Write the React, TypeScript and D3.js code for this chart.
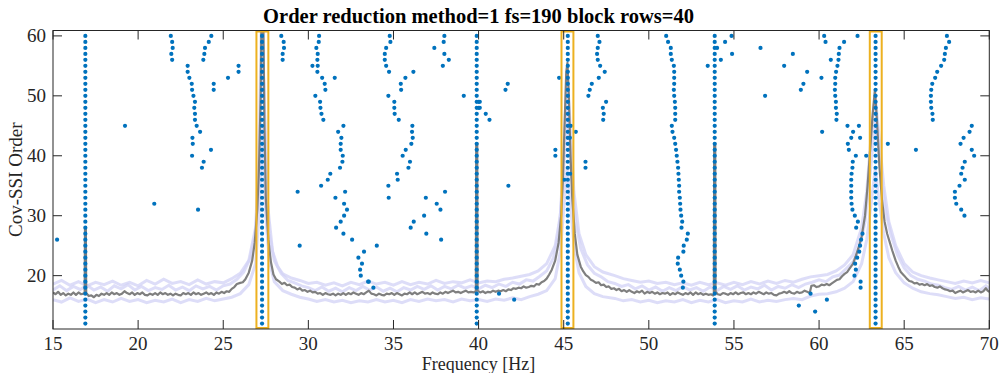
import React, { useEffect, useRef } from 'react';
import * as d3 from 'd3';

// chart text
const chartTitle = 'Order reduction method=1 fs=190 block rows=40';
const xLabel = 'Frequency [Hz]';
const yLabel = 'Cov-SSI Order';
const xTicks = [15, 20, 25, 30, 35, 40, 45, 50, 55, 60, 65, 70];
const yTicks = [20, 30, 40, 50, 60];

// poles that are found at every model order (12..60)
const stableFreqs = [16.9, 27.28, 39.89, 45.24, 53.87, 63.32];
const stableOrderLo = 12;
const stableOrderHi = 60;

// selected modes (orange boxes), centre frequency
const selectedModes = [27.3, 45.22, 63.33];

// remaining poles: [frequency, order]
const scatterPoles = [
  [15.24, 26], [19.23, 45], [20.95, 32], [23.52, 31],
  [21.92, 60], [22.0, 59], [22.03, 58], [21.95, 57], [22.0, 56],
  [22.91, 55], [22.91, 54], [23.01, 53], [23.15, 52], [23.17, 51], [23.25, 50], [23.34, 49], [23.3, 48],
  [23.34, 47], [23.34, 46], [23.44, 45], [23.64, 44], [23.19, 43], [23.21, 42], [23.17, 40], [23.85, 39],
  [23.75, 38], [24.28, 41],
  [24.3, 60], [24.15, 59], [23.93, 58], [23.89, 57], [23.83, 56], [24.44, 52], [24.44, 51],
  [25.28, 53], [25.9, 55], [25.9, 54],
  [28.41, 60], [28.55, 59], [28.57, 58], [28.49, 57], [28.49, 56],
  [29.37, 34], [29.49, 25],
  [30.63, 60], [30.61, 59], [30.47, 58], [30.55, 57], [30.53, 56], [30.24, 55], [30.55, 55], [30.53, 54],
  [30.81, 53], [30.96, 52], [31.0, 51], [30.41, 50], [30.69, 49], [30.71, 48], [30.77, 47], [30.88, 46],
  [31.55, 53],
  [32.06, 45], [31.75, 44], [31.94, 43], [31.9, 42], [31.9, 41], [32.02, 40], [32.0, 39], [31.86, 38],
  [31.29, 37], [31.14, 36], [30.75, 35], [32.16, 34], [31.59, 33], [32.1, 32], [32.27, 31], [32.1, 30],
  [31.9, 29], [31.63, 28], [32.06, 27], [32.57, 26], [33.27, 24], [32.94, 23], [33.15, 22], [33.04, 21],
  [33.08, 20], [33.51, 19],
  [34.02, 25], [33.55, 19], [33.82, 18],
  [34.78, 60], [34.82, 59], [34.57, 58], [34.49, 57], [34.49, 56], [34.57, 55], [34.74, 54], [35.43, 52],
  [35.45, 51], [35.7, 53], [36.17, 54],
  [34.7, 50], [35.05, 49], [35.05, 48], [35.07, 47], [35.31, 46],
  [36.11, 45], [36.09, 44], [36.13, 43], [36.05, 42], [35.72, 41], [35.54, 40], [35.97, 39], [35.88, 38],
  [35.21, 37], [35.25, 36], [34.7, 35], [34.72, 33],
  [38.03, 34], [36.9, 33], [37.54, 32], [37.76, 31], [36.8, 30], [36.19, 29], [36.01, 28], [36.93, 27],
  [37.8, 26],
  [37.99, 60], [37.95, 59], [37.4, 58], [37.99, 57], [38.25, 56], [37.9, 55],
  [39.13, 50],
  [40.0, 49], [40.07, 49], [40.0, 48], [40.07, 48],
  [40.42, 47], [40.64, 46], [41.71, 52], [41.58, 51], [41.75, 35], [41.2, 17], [42.09, 16],
  [44.73, 53], [45.42, 45], [45.71, 44], [45.36, 43], [44.51, 41], [44.51, 40], [45.04, 36], [45.38, 37],
  [47.0, 60], [47.1, 59], [47.0, 58], [46.96, 57], [47.0, 56], [47.14, 55], [47.41, 54], [47.06, 53],
  [46.65, 52], [46.53, 51], [46.45, 50], [47.49, 49], [47.3, 48], [47.35, 47], [47.32, 46],
  [46.28, 39], [46.28, 38],
  [51.02, 60], [51.13, 59], [51.29, 58], [51.29, 57], [51.35, 56], [51.47, 55], [51.49, 54], [51.49, 53],
  [51.49, 52], [51.47, 51], [51.49, 50], [51.53, 49], [51.55, 48], [51.55, 47], [51.55, 46], [51.35, 45],
  [51.39, 44], [51.49, 43], [51.55, 42], [51.6, 41], [51.64, 40], [51.68, 39], [51.72, 38], [51.74, 37],
  [51.76, 36], [51.78, 35], [51.78, 34], [51.82, 33], [51.84, 32], [51.86, 31], [51.9, 30], [51.96, 29],
  [51.92, 28], [52.29, 27], [52.23, 26], [52.05, 25], [52.03, 24], [51.72, 23], [51.7, 22], [51.82, 21],
  [51.9, 20], [52.03, 19], [52.0, 18],
  [54.01, 58], [53.46, 55], [54.23, 56], [54.48, 59], [54.86, 60], [54.89, 57],
  [56.56, 58], [56.83, 50], [57.95, 55], [58.46, 57], [59.3, 54], [59.08, 52], [58.93, 51],
  [60.3, 60], [60.38, 59], [60.69, 56], [60.14, 53], [60.18, 44],
  [59.5, 17], [58.81, 15], [59.77, 14], [60.46, 16],
  [62.26, 60], [61.47, 59], [61.2, 58], [61.16, 57], [61.14, 56], [61.08, 55], [61.0, 54], [60.95, 53],
  [60.95, 52], [60.93, 51], [60.95, 50], [60.99, 49], [60.99, 48], [61.04, 47], [61.02, 46],
  [61.67, 45], [62.34, 45], [62.0, 44], [61.89, 43], [62.41, 43], [61.69, 42], [61.75, 41], [62.16, 40],
  [62.77, 40], [61.98, 39], [61.96, 38], [61.91, 37], [61.89, 36], [61.89, 35], [61.89, 34], [61.89, 33],
  [61.91, 32], [61.96, 31], [62.1, 30], [62.28, 29], [62.18, 28], [62.55, 27], [62.47, 26], [62.41, 25],
  [62.36, 24], [62.24, 23], [62.12, 22], [62.16, 21], [62.08, 20], [62.44, 19], [62.44, 18],
  [64.04, 42], [65.69, 41],
  [67.51, 60], [67.64, 59], [67.45, 58], [67.39, 57], [67.35, 56], [67.17, 55], [66.94, 54], [66.82, 53],
  [66.65, 52], [66.59, 51], [66.57, 50], [66.57, 49], [66.59, 48], [66.66, 47], [66.68, 46],
  [68.97, 45], [68.84, 44], [68.49, 43], [68.31, 42], [68.97, 41], [69.11, 40], [68.56, 39], [68.43, 38],
  [68.35, 37], [68.56, 36], [68.25, 35], [67.98, 34], [67.98, 33], [68.06, 32], [68.35, 31], [68.54, 30],
];

// averaged spectrum, scaled to order units: [frequency, value]
const spectrum = [
  [15, 17.2], [15.15, 16.9], [15.3, 17.3], [15.45, 16.8], [15.6, 17.1], [15.75, 16.7], [15.9, 17.0],
  [16.05, 16.8], [16.2, 17.2], [16.35, 16.8], [16.5, 17.2], [16.65, 16.9], [16.8, 17.0], [16.86, 17.1],
  [16.88, 28.0], [16.93, 28.0], [16.95, 17.1], [17.1, 16.6], [17.25, 16.7], [17.4, 16.4], [17.55, 16.8],
  [17.7, 16.6], [17.85, 17.0], [18, 16.8], [18.15, 17.1], [18.3, 16.8], [18.45, 17.2], [18.6, 16.9],
  [18.75, 17.1], [18.9, 16.8], [19.05, 17.0], [19.2, 17.4], [19.35, 17.1], [19.5, 16.9], [19.65, 17.2],
  [19.8, 16.8], [19.95, 17.1], [20.1, 16.9], [20.25, 17.2], [20.4, 16.8], [20.55, 16.7], [20.7, 17.0],
  [20.85, 16.8], [21, 17.1], [21.15, 16.8], [21.3, 17.2], [21.45, 16.9], [21.6, 17.1], [21.75, 16.8],
  [21.9, 17.0], [22.05, 16.7], [22.2, 17.0], [22.35, 16.8], [22.5, 16.7], [22.65, 17.1], [22.8, 16.9],
  [22.95, 17.1], [23.1, 16.8], [23.25, 17.2], [23.4, 16.9], [23.55, 17.1], [23.7, 16.8], [23.85, 17.0],
  [24, 17.2], [24.15, 16.9], [24.3, 17.1], [24.45, 16.8], [24.6, 17.2], [24.75, 17.0], [24.9, 17.3],
  [25.05, 17.1], [25.2, 17.4], [25.35, 17.3], [25.5, 17.8], [25.65, 18.1], [25.8, 18.6], [26, 18.8],
  [26.15, 18.9], [26.3, 19.4], [26.5, 20.5], [26.7, 22.5], [26.85, 25.5], [27.0, 31], [27.1, 38],
  [27.2, 50], [27.25, 64], [27.35, 64], [27.42, 45], [27.5, 33], [27.65, 26], [27.8, 22.3], [27.95, 20.2],
  [28.1, 19.4], [28.3, 19.0], [28.45, 18.6], [28.6, 18.8], [28.75, 18.4], [28.9, 18.5], [29.05, 18.1],
  [29.2, 18.0], [29.35, 17.7], [29.5, 17.9], [29.65, 17.5], [29.8, 17.6], [29.95, 17.3], [30.1, 17.5],
  [30.25, 17.2], [30.4, 17.3], [30.55, 17.0], [30.7, 17.1], [30.85, 16.8], [31, 17.1], [31.15, 16.9],
  [31.3, 16.8], [31.45, 17.0], [31.6, 16.7], [31.75, 17.0], [31.9, 16.8], [32.05, 17.1], [32.2, 16.8],
  [32.35, 17.1], [32.5, 16.9], [32.65, 17.2], [32.8, 17.0], [32.95, 16.8], [33.1, 17.1], [33.25, 16.9],
  [33.4, 17.2], [33.55, 17.5], [33.7, 17.0], [33.85, 16.9], [34, 16.7], [34.15, 17.0], [34.3, 16.8],
  [34.45, 16.7], [34.6, 17.0], [34.75, 16.9], [34.9, 17.1], [35.05, 16.8], [35.2, 17.1], [35.35, 16.9],
  [35.5, 16.7], [35.65, 17.0], [35.8, 16.9], [35.95, 17.2], [36.1, 16.9], [36.25, 17.2], [36.4, 16.9],
  [36.55, 17.1], [36.7, 17.3], [36.85, 17.0], [37, 17.1], [37.15, 16.9], [37.3, 17.2], [37.45, 17.0],
  [37.6, 16.9], [37.75, 17.2], [37.9, 17.0], [38.05, 17.3], [38.2, 17.1], [38.35, 17.3], [38.5, 17.5],
  [38.65, 17.2], [38.8, 17.3], [38.95, 17.1], [39.1, 17.3], [39.25, 17.5], [39.4, 17.2], [39.55, 17.3],
  [39.7, 17.2], [39.84, 17.4], [39.86, 42.0], [39.92, 42.0], [39.94, 17.5], [40.1, 17.2], [40.25, 17.4],
  [40.4, 17.1], [40.55, 17.3], [40.7, 17.2], [40.85, 17.5], [41, 17.3], [41.15, 17.5], [41.3, 17.4],
  [41.45, 17.6], [41.6, 17.4], [41.75, 17.7], [41.9, 17.6], [42.05, 17.9], [42.2, 17.8], [42.35, 18.0],
  [42.5, 17.9], [42.65, 18.2], [42.8, 18.0], [42.95, 18.1], [43.1, 18.3], [43.25, 18.2], [43.4, 18.6],
  [43.55, 18.5], [43.7, 18.9], [43.85, 19.1], [44, 19.5], [44.15, 20.2], [44.3, 21.0], [44.5, 22.5],
  [44.7, 25.5], [44.85, 30], [44.95, 36], [45.05, 45], [45.15, 54], [45.22, 55.5], [45.3, 50], [45.4, 40],
  [45.5, 33], [45.65, 27], [45.8, 23.5], [46, 21.5], [46.15, 20.7], [46.3, 20.1], [46.45, 19.8],
  [46.6, 19.3], [46.75, 19.1], [46.9, 18.8], [47.05, 18.9], [47.2, 18.4], [47.35, 18.5], [47.5, 18.1],
  [47.65, 18.2], [47.8, 17.8], [47.95, 17.9], [48.1, 17.6], [48.25, 17.8], [48.4, 17.4], [48.55, 17.6],
  [48.7, 17.3], [48.85, 17.6], [49, 17.3], [49.15, 17.1], [49.3, 17.4], [49.45, 17.2], [49.6, 17.5],
  [49.75, 17.0], [49.9, 17.3], [50.05, 17.1], [50.2, 17.3], [50.35, 17.0], [50.5, 17.2], [50.65, 16.9],
  [50.8, 17.1], [50.95, 17.0], [51.1, 17.2], [51.25, 16.8], [51.4, 17.1], [51.55, 16.9], [51.7, 17.2],
  [51.85, 17.0], [52, 16.8], [52.15, 17.1], [52.3, 16.9], [52.45, 17.2], [52.6, 16.8], [52.75, 17.2],
  [52.9, 16.9], [53.05, 17.1], [53.2, 16.8], [53.35, 17.0], [53.5, 16.8], [53.65, 16.9], [53.78, 16.7],
  [53.82, 17.0], [53.84, 42.0], [53.9, 42.0], [53.92, 17.3], [54.05, 16.9], [54.2, 16.8], [54.35, 17.1],
  [54.5, 17.0], [54.65, 16.8], [54.8, 17.1], [54.95, 16.9], [55.1, 17.2], [55.25, 16.9], [55.4, 17.1],
  [55.55, 17.2], [55.7, 16.9], [55.85, 17.1], [56, 16.9], [56.15, 17.2], [56.3, 17.0], [56.45, 17.3],
  [56.6, 17.1], [56.75, 16.9], [56.9, 17.2], [57.05, 17.0], [57.2, 17.1], [57.35, 16.8], [57.5, 16.7],
  [57.65, 17.0], [57.8, 17.1], [57.95, 17.3], [58.1, 17.1], [58.25, 17.4], [58.4, 17.1], [58.55, 17.0],
  [58.7, 17.3], [58.85, 17.1], [59, 17.2], [59.15, 17.5], [59.3, 17.3], [59.45, 17.1], [59.55, 18.3],
  [59.7, 18.4], [59.85, 18.1], [60, 18.2], [60.15, 18.5], [60.3, 18.4], [60.45, 18.6], [60.6, 18.4],
  [60.75, 18.7], [60.9, 19.0], [61.05, 19.3], [61.2, 19.4], [61.35, 19.9], [61.5, 20.3], [61.65, 20.6],
  [61.8, 21.2], [62, 22.0], [62.15, 23.2], [62.3, 24.5], [62.5, 26.5], [62.7, 30], [62.85, 35], [63, 41],
  [63.15, 47], [63.28, 51], [63.4, 46], [63.55, 38], [63.7, 32.5], [63.85, 29], [64, 27], [64.15, 25.6],
  [64.3, 24.2], [64.5, 22.5], [64.65, 21.5], [64.8, 20.6], [65, 20.0], [65.15, 19.5], [65.3, 19.1],
  [65.45, 19.0], [65.6, 18.7], [65.75, 18.8], [65.9, 18.5], [66.05, 18.6], [66.2, 18.4], [66.35, 18.6],
  [66.5, 18.3], [66.65, 18.4], [66.8, 18.1], [66.95, 18.0], [67.1, 18.2], [67.25, 17.9], [67.4, 17.7],
  [67.55, 17.6], [67.7, 17.4], [67.85, 17.5], [68, 17.1], [68.15, 17.3], [68.3, 17.5], [68.45, 17.2],
  [68.6, 17.4], [68.75, 17.6], [68.9, 17.3], [69.05, 17.4], [69.2, 17.2], [69.35, 17.5], [69.5, 17.2],
  [69.65, 17.4], [69.8, 17.9], [69.9, 17.5], [70, 17.3],
];

// single-channel spectra drawn as a light band behind the mean
const spectrumHi = [
  [15, 18.6], [15.5, 19.2], [16, 18.4], [16.5, 19.0], [17, 18.3], [17.5, 18.9], [18, 18.5], [18.5, 19.1],
  [19, 18.4], [19.5, 18.9], [20, 18.3], [20.5, 19.2], [21, 18.6], [21.5, 19.4], [22, 18.7], [22.5, 19.0],
  [23, 18.5], [23.5, 19.3], [24, 18.6], [24.5, 19.0], [25, 18.8], [25.5, 19.5], [26, 20.4], [26.5, 22.5],
  [26.9, 28], [27.1, 40], [27.25, 64], [27.4, 50], [27.6, 32], [27.9, 24], [28.2, 21.5], [28.5, 20.3],
  [29, 19.6], [29.5, 19.2], [30, 18.7], [30.5, 18.9], [31, 18.4], [31.5, 18.8], [32, 18.3], [32.5, 18.9],
  [33, 18.5], [33.5, 19.1], [34, 18.6], [34.5, 18.9], [35, 18.4], [35.5, 19.0], [36, 18.5], [36.5, 18.9],
  [37, 18.6], [37.5, 19.2], [38, 18.7], [38.5, 19.0], [39, 18.8], [39.5, 19.3], [40, 18.8], [40.5, 19.1],
  [41, 19.0], [41.5, 19.4], [42, 19.6], [42.5, 19.9], [43, 20.2], [43.5, 20.8], [44, 22.0], [44.5, 25.0],
  [44.8, 30], [45.0, 40], [45.2, 54], [45.4, 44], [45.6, 34], [45.9, 27], [46.3, 23.5], [46.8, 21.5],
  [47.3, 20.6], [48, 20.0], [48.5, 19.5], [49, 19.2], [49.5, 18.9], [50, 19.1], [50.5, 18.7], [51, 18.9],
  [51.5, 18.5], [52, 18.8], [52.5, 18.4], [53, 18.9], [53.5, 18.5], [54, 18.8], [54.5, 18.4], [55, 18.9],
  [55.5, 18.5], [56, 19.0], [56.5, 18.6], [57, 19.1], [57.5, 18.7], [58, 19.2], [58.5, 18.9], [59, 19.4],
  [59.5, 19.8], [60, 20.0], [60.5, 20.2], [61, 20.8], [61.5, 21.8], [62, 23.5], [62.5, 28], [62.8, 34],
  [63.1, 45], [63.3, 50], [63.5, 44], [63.8, 35], [64.1, 29], [64.5, 25], [65, 22], [65.5, 20.6],
  [66, 20.0], [66.5, 19.6], [67, 19.3], [67.5, 19.0], [68, 18.7], [68.5, 19.1], [69, 18.8], [69.5, 19.2],
  [70, 18.8],
];
const spectrumMid = [
  [15, 17.6], [15.4, 18.3], [15.8, 17.5], [16.2, 18.2], [16.6, 17.7], [17, 18.4], [17.4, 17.6], [17.8, 18.1],
  [18.2, 17.4], [18.6, 18.3], [19, 17.8], [19.4, 18.5], [19.8, 17.6], [20.2, 18.2], [20.6, 17.5], [21, 18.0],
  [21.4, 17.7], [21.8, 18.4], [22.2, 17.6], [22.6, 18.1], [23, 17.5], [23.4, 18.3], [23.8, 17.8], [24.2, 18.2],
  [24.6, 17.6], [25, 18.3], [25.4, 18.6], [25.8, 19.4], [26.2, 20.6], [26.6, 23], [26.9, 27], [27.1, 36],
  [27.3, 62], [27.5, 38], [27.7, 27], [28, 22.5], [28.4, 20.4], [28.8, 19.2], [29.2, 18.8], [29.6, 18.3],
  [30, 18.0], [30.4, 17.5], [30.8, 18.1], [31.2, 17.4], [31.6, 17.9], [32, 17.3], [32.4, 18.0], [32.8, 17.5],
  [33.2, 18.2], [33.6, 17.6], [34, 18.1], [34.4, 17.4], [34.8, 17.9], [35.2, 17.3], [35.6, 18.0], [36, 17.6],
  [36.4, 18.2], [36.8, 17.7], [37.2, 18.3], [37.6, 17.6], [38, 18.2], [38.4, 17.8], [38.8, 18.4], [39.2, 17.9],
  [39.6, 18.3], [40, 17.8], [40.4, 18.4], [40.8, 18.0], [41.2, 18.6], [41.6, 18.2], [42, 18.9], [42.4, 18.6],
  [42.8, 19.3], [43.2, 19.1], [43.6, 19.9], [44, 20.8], [44.4, 23], [44.7, 27], [44.95, 35], [45.2, 48],
  [45.45, 37], [45.7, 29], [46, 24.5], [46.4, 21.8], [46.8, 20.4], [47.2, 19.8], [47.6, 19.0], [48, 18.7],
  [48.4, 18.2], [48.8, 18.5], [49.2, 17.8], [49.6, 18.3], [50, 17.6], [50.4, 18.1], [50.8, 17.4], [51.2, 18.0],
  [51.6, 17.5], [52, 18.2], [52.4, 17.6], [52.8, 18.0], [53.2, 17.4], [53.6, 18.1], [54, 17.5], [54.4, 18.2],
  [54.8, 17.7], [55.2, 18.3], [55.6, 17.6], [56, 18.1], [56.4, 17.8], [56.8, 18.4], [57.2, 17.6], [57.6, 18.2],
  [58, 17.9], [58.4, 18.5], [58.8, 18.0], [59.2, 18.6], [59.6, 18.9], [60, 19.3], [60.4, 19.0], [60.8, 19.8],
  [61.2, 20.1], [61.6, 21.2], [62, 22.3], [62.4, 25], [62.7, 29], [63, 37], [63.3, 46], [63.6, 38],
  [63.9, 31], [64.2, 27], [64.6, 23.5], [65, 21.3], [65.4, 20.0], [65.8, 19.4], [66.2, 19.1], [66.6, 18.6],
  [67, 18.4], [67.4, 18.0], [67.8, 17.7], [68.2, 18.2], [68.6, 17.6], [69, 18.1], [69.4, 17.5], [69.8, 18.3],
  [70, 17.8],
];
const spectrumLo = [
  [15, 16.0], [15.5, 15.6], [16, 16.3], [16.5, 15.7], [17, 16.1], [17.5, 15.5], [18, 16.0], [18.5, 15.6],
  [19, 16.2], [19.5, 15.7], [20, 16.0], [20.5, 15.5], [21, 15.9], [21.5, 15.6], [22, 16.1], [22.5, 15.5],
  [23, 16.0], [23.5, 15.7], [24, 16.2], [24.5, 15.8], [25, 16.1], [25.5, 16.4], [26, 17.0], [26.5, 18.5],
  [26.9, 22], [27.1, 30], [27.3, 45], [27.5, 30], [27.7, 22.5], [28, 19.0], [28.5, 17.5], [29, 16.9],
  [29.5, 16.4], [30, 16.1], [30.5, 15.7], [31, 16.0], [31.5, 15.6], [32, 15.9], [32.5, 15.5], [33, 15.8],
  [33.5, 15.6], [34, 16.0], [34.5, 15.6], [35, 15.9], [35.5, 15.5], [36, 16.0], [36.5, 15.7], [37, 16.1],
  [37.5, 15.8], [38, 16.0], [38.5, 15.6], [39, 16.1], [39.5, 15.8], [40, 16.0], [40.5, 15.7], [41, 16.1],
  [41.5, 15.9], [42, 16.3], [42.5, 16.0], [43, 16.5], [43.5, 16.9], [44, 17.5], [44.5, 19.5], [44.8, 24],
  [45.0, 31], [45.2, 38], [45.4, 32], [45.6, 25], [45.9, 20.5], [46.3, 18.2], [46.8, 17.0], [47.3, 16.5],
  [48, 16.2], [48.5, 15.8], [49, 16.0], [49.5, 15.6], [50, 15.9], [50.5, 15.5], [51, 15.8], [51.5, 15.6],
  [52, 16.0], [52.5, 15.5], [53, 15.9], [53.5, 15.6], [54, 16.0], [54.5, 15.5], [55, 15.8], [55.5, 15.6],
  [56, 16.1], [56.5, 15.6], [57, 15.9], [57.5, 15.7], [58, 16.0], [58.5, 16.2], [59, 16.0], [59.5, 16.6],
  [60, 16.9], [60.5, 17.0], [61, 17.3], [61.5, 17.9], [62, 19.0], [62.5, 22], [62.8, 26], [63.1, 33],
  [63.3, 38], [63.5, 33], [63.8, 27], [64.1, 23], [64.5, 20.5], [65, 18.8], [65.5, 17.9], [66, 17.3],
  [66.5, 17.0], [67, 16.8], [67.5, 16.5], [68, 16.2], [68.5, 16.4], [69, 16.0], [69.5, 16.3], [70, 16.1],
];

const W = 1007;
const H = 373;
const margin = { top: 30.5, right: 17.7, bottom: 44, left: 53 };
const serif = '"Liberation Serif", "Times New Roman", serif';

const App = () => {
  const svgRef = useRef(null);

  useEffect(() => {
    const svg = d3.select(svgRef.current);
    svg.selectAll('*').remove();

    const x = d3.scaleLinear().domain([15, 70]).range([margin.left, W - margin.right]);
    const y = d3.scaleLinear().domain([11.1, 60.9]).range([H - margin.bottom, margin.top]);

    svg.append('defs').append('clipPath').attr('id', 'plotClip')
      .append('rect')
      .attr('x', margin.left).attr('y', margin.top)
      .attr('width', x(70) - x(15)).attr('height', y(11.1) - y(60.9));

    const plot = svg.append('g').attr('clip-path', 'url(#plotClip)');
    const line = d3.line().x(d => x(d[0])).y(d => y(d[1]));

    // light spectra band
    [spectrumHi, spectrumMid, spectrumLo].forEach(s => {
      plot.append('path').datum(s)
        .attr('d', line)
        .attr('fill', 'none')
        .attr('stroke', '#d2d2f6')
        .attr('stroke-width', 3)
        .attr('stroke-opacity', 0.75);
    });

    // mean spectrum
    plot.append('path').datum(spectrum)
      .attr('d', line)
      .attr('fill', 'none')
      .attr('stroke', '#7f7f7f')
      .attr('stroke-width', 2.2)
      .attr('stroke-linejoin', 'round');

    // poles
    const stablePoles = [];
    stableFreqs.forEach(f => {
      for (let o = stableOrderLo; o <= stableOrderHi; o++) stablePoles.push([f, o]);
    });
    plot.selectAll('.pole')
      .data(stablePoles.concat(scatterPoles))
      .enter().append('circle')
      .attr('class', 'pole')
      .attr('cx', d => x(d[0]))
      .attr('cy', d => y(d[1]))
      .attr('r', 2.1)
      .style('fill', '#0072BD');

    // selected modes
    svg.selectAll('.mode')
      .data(selectedModes)
      .enter().append('rect')
      .attr('class', 'mode')
      .attr('x', d => x(d - 0.35))
      .attr('y', y(60.9) + 1)
      .attr('width', d => x(d + 0.35) - x(d - 0.35))
      .attr('height', y(11.1) - y(60.9) - 2)
      .attr('fill', 'none')
      .attr('stroke', '#EDB120')
      .attr('stroke-width', 2);

    // axes box and ticks
    const axisColor = '#262626';
    const tickLen = 9;
    const ax = svg.append('g');
    ax.append('rect')
      .attr('x', x(15)).attr('y', y(60.9))
      .attr('width', x(70) - x(15)).attr('height', y(11.1) - y(60.9))
      .attr('fill', 'none').attr('stroke', axisColor).attr('stroke-width', 1);

    xTicks.forEach(t => {
      ax.append('line').attr('x1', x(t)).attr('x2', x(t))
        .attr('y1', y(11.1)).attr('y2', y(11.1) - tickLen)
        .attr('stroke', axisColor);
      ax.append('line').attr('x1', x(t)).attr('x2', x(t))
        .attr('y1', y(60.9)).attr('y2', y(60.9) + tickLen)
        .attr('stroke', axisColor);
      ax.append('text')
        .attr('x', x(t)).attr('y', 350)
        .attr('text-anchor', 'middle')
        .attr('font-family', serif).attr('font-size', 19)
        .attr('fill', axisColor)
        .text(t);
    });

    yTicks.forEach(t => {
      ax.append('line').attr('x1', x(15)).attr('x2', x(15) + tickLen)
        .attr('y1', y(t)).attr('y2', y(t))
        .attr('stroke', axisColor);
      ax.append('line').attr('x1', x(70)).attr('x2', x(70) - tickLen)
        .attr('y1', y(t)).attr('y2', y(t))
        .attr('stroke', axisColor);
      ax.append('text')
        .attr('x', x(15) - 7).attr('y', y(t) + 6.5)
        .attr('text-anchor', 'end')
        .attr('font-family', serif).attr('font-size', 19)
        .attr('fill', axisColor)
        .text(t);
    });

    // labels
    svg.append('text')
      .attr('x', 478.5).attr('y', 370.3)
      .attr('text-anchor', 'middle')
      .attr('font-family', serif).attr('font-size', 18)
      .attr('fill', axisColor)
      .text(xLabel);

    svg.append('text')
      .attr('transform', `translate(21.5,${(y(11.1) + y(60.9)) / 2}) rotate(-90)`)
      .attr('text-anchor', 'middle')
      .attr('font-family', serif).attr('font-size', 19)
      .attr('fill', axisColor)
      .text(yLabel);

    svg.append('text')
      .attr('x', 478.5).attr('y', 22.5)
      .attr('text-anchor', 'middle')
      .attr('font-family', serif).attr('font-size', 20.5)
      .attr('font-weight', 'bold')
      .attr('fill', '#000')
      .text(chartTitle);
  }, []);

  return (
    <svg
      ref={svgRef}
      width={W}
      height={H}
      style={{ position: 'absolute', left: 0, top: 0, background: '#fff' }}
    />
  );
};

export default App;
